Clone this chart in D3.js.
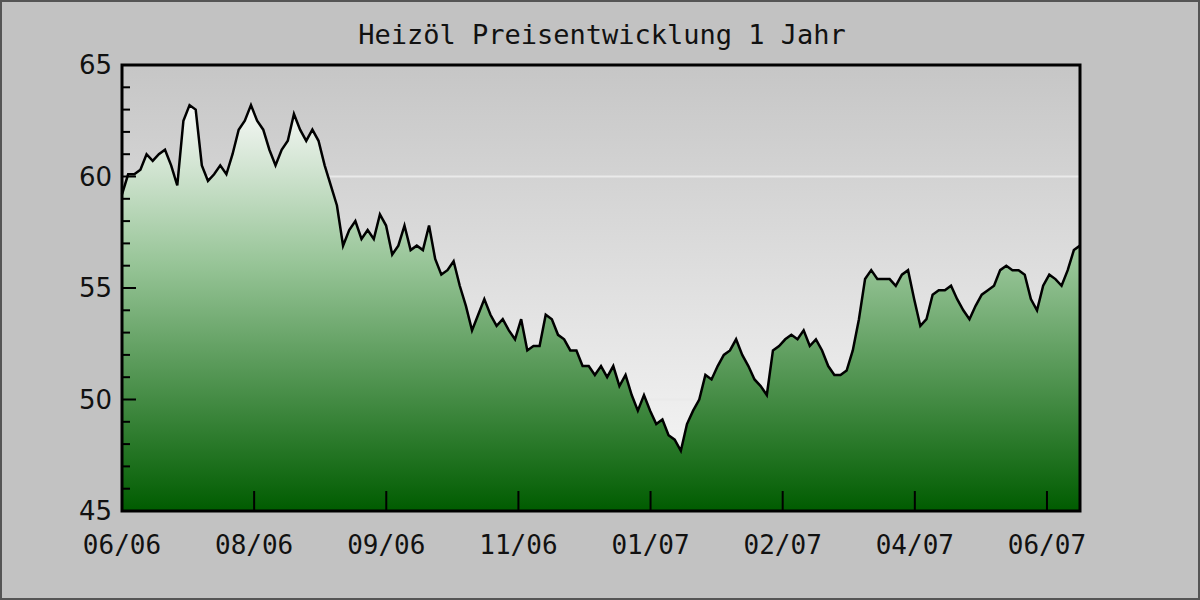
<!DOCTYPE html>
<html>
<head>
<meta charset="utf-8">
<script src="https://cdn.jsdelivr.net/npm/d3@7"></script>
<style>
  body { margin: 0; background: #c2c2c2; }
</style>
</head>
<body>
<div id="chart"></div>
<script>
const title = "Heizöl Preisentwicklung 1 Jahr";
const monthLabels = ["06/06", "08/06", "09/06", "11/06", "01/07", "02/07", "04/07", "06/07"];
const yTicks = [45, 50, 55, 60, 65];
// price readings, evenly spaced over the year
const prices = [
  59.2, 60.1, 60.1, 60.3, 61.0, 60.7, 61.0, 61.2, 60.5, 59.6, 62.5, 63.2, 63.0, 60.5, 59.8, 60.1,
  60.5, 60.1, 61.0, 62.1, 62.5, 63.2, 62.5, 62.1, 61.2, 60.5, 61.2, 61.6, 62.8, 62.1, 61.6, 62.1,
  61.6, 60.5, 59.6, 58.7, 56.9, 57.6, 58.0, 57.2, 57.6, 57.2, 58.3, 57.8, 56.5, 56.9, 57.8, 56.7,
  56.9, 56.7, 57.8, 56.3, 55.6, 55.8, 56.2, 55.1, 54.2, 53.1, 53.8, 54.5, 53.8, 53.3, 53.6, 53.1,
  52.7, 53.6, 52.2, 52.4, 52.4, 53.8, 53.6, 52.9, 52.7, 52.2, 52.2, 51.5, 51.5, 51.1, 51.5, 51.0,
  51.5, 50.6, 51.1, 50.2, 49.5, 50.2, 49.5, 48.9, 49.1, 48.4, 48.2, 47.7, 48.9, 49.5, 50.0, 51.1,
  50.9, 51.5, 52.0, 52.2, 52.7, 52.0, 51.5, 50.9, 50.6, 50.2, 52.2, 52.4, 52.7, 52.9, 52.7, 53.1,
  52.4, 52.7, 52.2, 51.5, 51.1, 51.1, 51.3, 52.2, 53.6, 55.4, 55.8, 55.4, 55.4, 55.4, 55.1, 55.6,
  55.8, 54.5, 53.3, 53.6, 54.7, 54.9, 54.9, 55.1, 54.5, 54.0, 53.6, 54.2, 54.7, 54.9, 55.1, 55.8,
  56.0, 55.8, 55.8, 55.6, 54.5, 54.0, 55.1, 55.6, 55.4, 55.1, 55.8, 56.7, 56.9
];
const lastPeriod = 7.25; // data ends a quarter period after the last label

const W = 1200, H = 600;
const m = { top: 65, right: 120, bottom: 89, left: 122 };

const svg = d3.select("#chart").append("svg")
  .attr("width", W).attr("height", H);

const defs = svg.append("defs");
const bg = defs.append("linearGradient").attr("id", "bg")
  .attr("x1", 0).attr("y1", 0).attr("x2", 0).attr("y2", 1);
bg.append("stop").attr("offset", "0%").attr("stop-color", "#c6c6c6");
bg.append("stop").attr("offset", "85%").attr("stop-color", "#f2f2f2");
bg.append("stop").attr("offset", "100%").attr("stop-color", "#f6f6f6");

const fill = defs.append("linearGradient").attr("id", "fill")
  .attr("gradientUnits", "userSpaceOnUse")
  .attr("x1", 0).attr("y1", m.top).attr("x2", 0).attr("y2", H - m.bottom);
fill.append("stop").attr("offset", "8%").attr("stop-color", "#fafafa");
fill.append("stop").attr("offset", "45%").attr("stop-color", "#96c496");
fill.append("stop").attr("offset", "100%").attr("stop-color", "#005c00");

svg.append("rect").attr("x", 1).attr("y", 1).attr("width", W - 2).attr("height", H - 2)
  .attr("fill", "#c2c2c2").attr("stroke", "#555").attr("stroke-width", 2);

const x = d3.scaleLinear().domain([0, lastPeriod]).range([m.left, W - m.right]);
const y = d3.scaleLinear().domain([45, 65]).range([H - m.bottom, m.top]);
const xi = i => x(i * lastPeriod / (prices.length - 1));

svg.append("rect").attr("x", m.left).attr("y", m.top)
  .attr("width", W - m.left - m.right).attr("height", H - m.top - m.bottom)
  .attr("fill", "url(#bg)");

svg.append("g").selectAll("line").data([50, 60]).join("line")
  .attr("x1", m.left).attr("x2", W - m.right)
  .attr("y1", d => y(d)).attr("y2", d => y(d))
  .attr("stroke", "#eaeaea").attr("stroke-width", 2);

svg.append("path").datum(prices)
  .attr("fill", "url(#fill)")
  .attr("d", d3.area().x((d, i) => xi(i)).y0(y(45)).y1(d => y(d)));

svg.append("path").datum(prices)
  .attr("fill", "none").attr("stroke", "#000").attr("stroke-width", 2.5)
  .attr("d", d3.line().x((d, i) => xi(i)).y(d => y(d)));

svg.append("rect").attr("x", m.left).attr("y", m.top)
  .attr("width", W - m.left - m.right).attr("height", H - m.top - m.bottom)
  .attr("fill", "none").attr("stroke", "#000").attr("stroke-width", 3);

// y axis: ticks inside, minor every unit
const yAxis = svg.append("g").attr("transform", `translate(${m.left},0)`);
yAxis.selectAll("line.minor").data(d3.range(45, 66)).join("line")
  .attr("x1", 0).attr("x2", d => d % 5 === 0 ? 14 : 8)
  .attr("y1", d => y(d)).attr("y2", d => y(d))
  .attr("stroke", "#000").attr("stroke-width", 2);
yAxis.selectAll("text").data(yTicks).join("text")
  .attr("x", -10).attr("y", d => y(d)).attr("dy", "0.36em")
  .attr("text-anchor", "end")
  .attr("font-family", "DejaVu Sans").attr("font-size", 26).attr("fill", "#111")
  .text(d => d);

// x axis: ticks inside pointing up
const xAxis = svg.append("g");
xAxis.selectAll("line").data(monthLabels).join("line")
  .attr("x1", (d, i) => x(i)).attr("x2", (d, i) => x(i))
  .attr("y1", y(45)).attr("y2", y(45) - 20)
  .attr("stroke", "#000").attr("stroke-width", 2);
xAxis.selectAll("text").data(monthLabels).join("text")
  .attr("x", (d, i) => x(i)).attr("y", y(45) + 43)
  .attr("text-anchor", "middle")
  .attr("font-family", "DejaVu Sans Mono").attr("font-size", 26).attr("fill", "#111")
  .text(d => d);

svg.append("text").attr("x", (m.left + W - m.right) / 2 + 1).attr("y", 44)
  .attr("text-anchor", "middle")
  .attr("font-family", "DejaVu Sans Mono").attr("font-size", 27).attr("fill", "#111")
  .text(title);
</script>
</body>
</html>
